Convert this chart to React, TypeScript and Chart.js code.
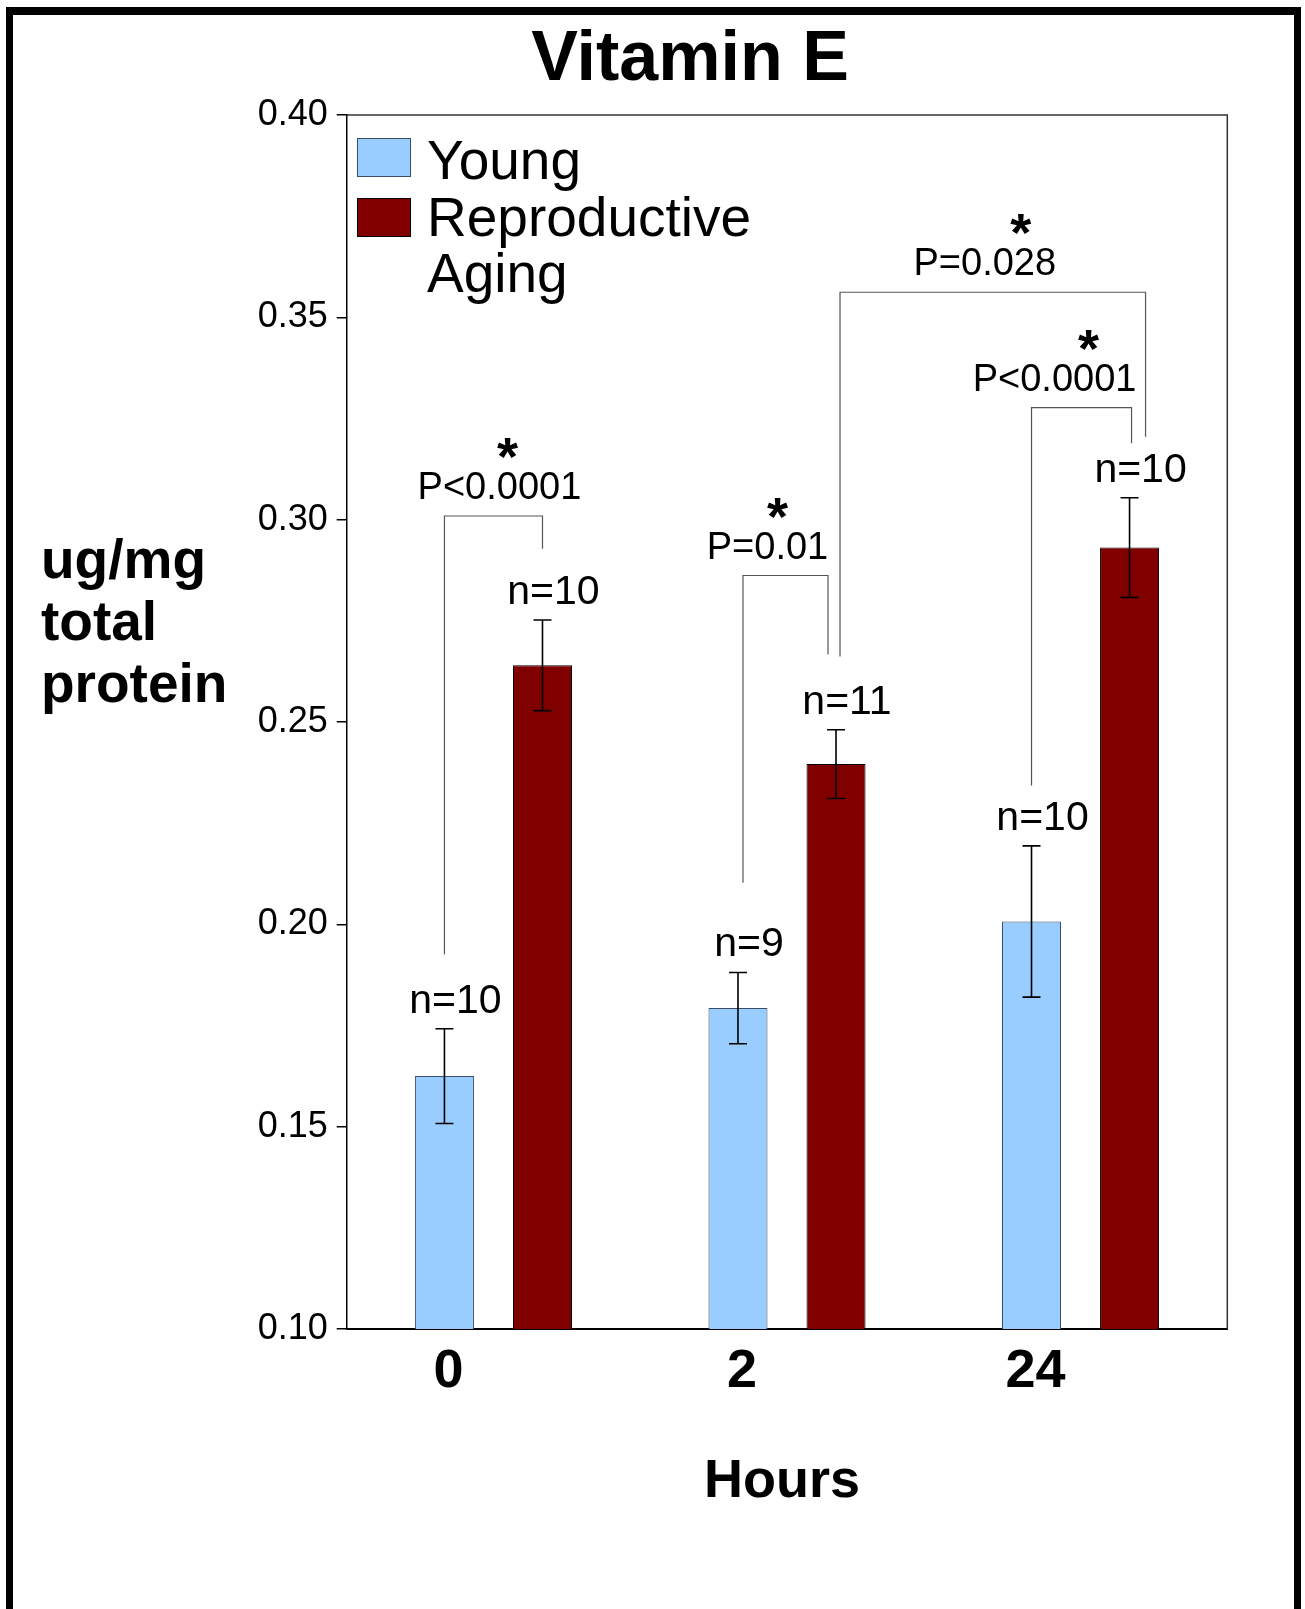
import React, { useEffect, useRef } from 'react';
import { Chart, registerables } from 'chart.js';

Chart.register(...registerables);

// ---------- data ----------
const categories = ['0', '2', '24'];
const seriesNames = ['Young', 'Reproductive Aging'];
const youngMeans = [0.1625, 0.1793, 0.2007];
const youngSEM = [0.0117, 0.0088, 0.0187];
const youngN = [10, 9, 10];
const agingMeans = [0.264, 0.2396, 0.2931];
const agingSEM = [0.0112, 0.0085, 0.0123];
const agingN = [10, 11, 10];
const yMin = 0.1;
const yMax = 0.4;
const yStep = 0.05;

// significance comparisons: [categoryIndex, datasetIndex] endpoints, bracket levels in data units
const comparisonFrom = [[0, 0], [1, 0], [1, 1], [2, 0]];
const comparisonTo = [[0, 1], [1, 1], [2, 1], [2, 1]];
const comparisonTop = [0.3009, 0.2862, 0.3562, 0.3277];
const comparisonLeftFoot = [0.1926, 0.2103, 0.2662, 0.2343];
const comparisonRightFoot = [0.2928, 0.2667, 0.3205, 0.3189];
const comparisonLabels = ['P<0.0001', 'P=0.01', 'P=0.028', 'P<0.0001'];

// ---------- layout / style ----------
const W = 1305;
const H = 1609;
const FONT = '"Liberation Sans", Arial, Helvetica, sans-serif';
const YOUNG_COLOR = '#99CCFF';
const AGING_COLOR = '#800000';
// pixel nudges for bracket legs and texts (layout only)
const nudgeLeft = [0, 5, 4, 0];
const nudgeRight = [0, -8, 16, 2];
const nudgeText = [6, -18, -8, -27];
const nudgeStar = [14, -8, 28, 7];

const decorations = {
  id: 'decorations',
  afterDatasetsDraw(chart: any) {
    const ctx = chart.ctx;
    const ys = chart.scales.y;
    const sems = [youngSEM, agingSEM];
    const means = [youngMeans, agingMeans];
    const ns = [youngN, agingN];
    ctx.save();
    // error bars
    ctx.strokeStyle = '#000';
    ctx.lineWidth = 1.6;
    for (let d = 0; d < 2; d++) {
      const meta = chart.getDatasetMeta(d);
      meta.data.forEach((bar: any, i: number) => {
        const x = bar.x;
        const yt = ys.getPixelForValue(means[d][i] + sems[d][i]);
        const yb = ys.getPixelForValue(means[d][i] - sems[d][i]);
        ctx.beginPath();
        ctx.moveTo(x, yt);
        ctx.lineTo(x, yb);
        ctx.moveTo(x - 9, yt);
        ctx.lineTo(x + 9, yt);
        ctx.moveTo(x - 9, yb);
        ctx.lineTo(x + 9, yb);
        ctx.stroke();
        // n labels
        ctx.fillStyle = '#000';
        ctx.font = `41px ${FONT}`;
        ctx.textAlign = 'center';
        ctx.textBaseline = 'alphabetic';
        ctx.fillText(`n=${ns[d][i]}`, x + 11, yt - 16);
      });
    }
    // significance brackets
    comparisonFrom.forEach((from, k) => {
      const to = comparisonTo[k];
      const xl = chart.getDatasetMeta(from[1]).data[from[0]].x + nudgeLeft[k];
      const xr = chart.getDatasetMeta(to[1]).data[to[0]].x + nudgeRight[k];
      const yTop = ys.getPixelForValue(comparisonTop[k]);
      const yL = ys.getPixelForValue(comparisonLeftFoot[k]);
      const yR = ys.getPixelForValue(comparisonRightFoot[k]);
      ctx.strokeStyle = '#555';
      ctx.lineWidth = 1.2;
      ctx.beginPath();
      ctx.moveTo(xl, yL);
      ctx.lineTo(xl, yTop);
      ctx.lineTo(xr, yTop);
      ctx.lineTo(xr, yR);
      ctx.stroke();
      const mid = (xl + xr) / 2;
      const pBase = yTop - 17;
      ctx.fillStyle = '#000';
      ctx.textAlign = 'center';
      ctx.textBaseline = 'alphabetic';
      ctx.font = `38px ${FONT}`;
      ctx.fillText(comparisonLabels[k], mid + nudgeText[k], pBase);
      ctx.font = `bold 54px ${FONT}`;
      ctx.fillText('*', mid + nudgeStar[k], pBase - 24);
    });
    ctx.restore();
  },
  afterDraw(chart: any) {
    const ctx = chart.ctx;
    const { left, right, top, bottom } = chart.chartArea;
    ctx.save();
    // plot box top & right
    ctx.strokeStyle = '#333';
    ctx.lineWidth = 1.5;
    ctx.beginPath();
    ctx.moveTo(left, top);
    ctx.lineTo(right, top);
    ctx.lineTo(right, bottom);
    ctx.stroke();
    // outer frame
    ctx.fillStyle = '#000';
    ctx.fillRect(6, 7, 7, H - 7);
    ctx.fillRect(6, 7, 1301 - 6, 8);
    ctx.fillRect(1294, 7, 7, H - 7);
    // title
    ctx.fillStyle = '#000';
    ctx.textAlign = 'center';
    ctx.textBaseline = 'alphabetic';
    ctx.font = `bold 70px ${FONT}`;
    ctx.fillText('Vitamin E', 690, 80);
    // x title
    ctx.font = `bold 54px ${FONT}`;
    ctx.fillText('Hours', 782, 1497);
    // y title
    ctx.textAlign = 'left';
    ctx.font = `bold 55px ${FONT}`;
    ['ug/mg', 'total', 'protein'].forEach((t, i) => ctx.fillText(t, 41, 578 + i * 62));
    // legend
    const colors = [YOUNG_COLOR, AGING_COLOR];
    const borders = ['#3c4e63', '#000'];
    const lines = [['Young'], ['Reproductive', 'Aging']];
    const swatchTops = [138, 198];
    const baselines = [[179], [236, 292]];
    ctx.lineWidth = 1;
    seriesNames.forEach((_, i) => {
      ctx.fillStyle = colors[i];
      ctx.fillRect(357, swatchTops[i], 54, 39);
      ctx.strokeStyle = borders[i];
      ctx.strokeRect(357.5, swatchTops[i] + 0.5, 53, 38);
      ctx.fillStyle = '#000';
      ctx.font = `55px ${FONT}`;
      lines[i].forEach((t, j) => ctx.fillText(t, 427, baselines[i][j]));
    });
    ctx.restore();
  },
};

export default function App() {
  const ref = useRef<HTMLCanvasElement>(null);
  useEffect(() => {
    if (!ref.current) return;
    const chart = new Chart(ref.current, {
      type: 'bar',
      data: {
        labels: categories,
        datasets: [
          {
            label: seriesNames[0],
            data: youngMeans,
            backgroundColor: YOUNG_COLOR,
            borderColor: '#3c4e63',
            borderWidth: 1,
            categoryPercentage: 0.668,
            barPercentage: 0.602,
          },
          {
            label: seriesNames[1],
            data: agingMeans,
            backgroundColor: AGING_COLOR,
            borderColor: '#000',
            borderWidth: 1,
            categoryPercentage: 0.668,
            barPercentage: 0.602,
          },
        ],
      },
      options: {
        responsive: false,
        animation: false,
        devicePixelRatio: 1,
        layout: { padding: { top: 115, right: 77.7, bottom: 0, left: 0 } },
        plugins: {
          legend: { display: false },
          title: { display: false },
          tooltip: { enabled: false },
        },
        scales: {
          x: {
            grid: { display: false },
            border: { display: true, color: '#000', width: 2 },
            ticks: {
              color: '#000',
              font: { family: FONT, size: 54, weight: 'bold' },
              padding: 3,
              labelOffset: -45,
            },
            afterFit: (s: any) => {
              s.height = 280;
            },
          },
          y: {
            min: yMin,
            max: yMax,
            grid: { drawOnChartArea: false, drawTicks: true, tickLength: 10, color: '#000', lineWidth: 1.5 },
            border: { display: true, color: '#000', width: 1.5 },
            ticks: {
              stepSize: yStep,
              color: '#000',
              padding: 9,
              font: { family: FONT, size: 36 },
              callback: (v: any) => Number(v).toFixed(2),
            },
            afterFit: (s: any) => {
              s.width = 346.7;
            },
          },
        },
      },
      plugins: [decorations],
    });
    return () => chart.destroy();
  }, []);
  return (
    <div style={{ position: 'fixed', left: 0, top: 0, width: W, height: H, background: '#fff' }}>
      <canvas ref={ref} width={W} height={H} style={{ display: 'block', width: W, height: H }} />
    </div>
  );
}
